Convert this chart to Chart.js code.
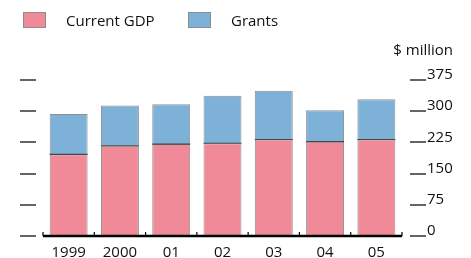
<!DOCTYPE html>
<html>
<head>
<meta charset="utf-8">
<script src="https://cdn.jsdelivr.net/npm/chart.js@4"></script>
<style>
  body { margin: 0; background: #fff; font-family: "Open Sans", sans-serif; }
  #wrap { position: relative; width: 471px; height: 258px; }
  canvas { position: absolute; left: 0; top: 0; }
  .key { position: absolute; top: 12px; width: 21px; height: 14px; border: 1px solid #8c8c8c; }
  .txt { position: absolute; font-size: 15px; line-height: 16px; color: #111; white-space: nowrap; }
</style>
</head>
<body>
<div id="wrap">
  <canvas id="chart" width="471" height="258"></canvas>
  <div class="key" style="left:23px;background:#f08a99"></div>
  <div class="txt" style="left:66px;top:12px">Current GDP</div>
  <div class="key" style="left:188px;background:#7db1d8"></div>
  <div class="txt" style="left:231px;top:12px">Grants</div>
  <div class="txt" style="right:18px;top:41px">$ million</div>
</div>
<script>
const years = ["1999", "2000", "01", "02", "03", "04", "05"];
const currentGdp = [196, 217, 221, 223, 232, 227, 232];
const grants = [97, 97, 96, 114, 117, 75, 97];
const yTicks = [0, 75, 150, 225, 300, 375];

const font = { family: "'Open Sans', sans-serif", size: 15 };

// tick dashes on both sides, dark line on top of GDP, heavy base line
const axisMarks = {
  id: "axisMarks",
  afterDatasetsDraw(chart) {
    const { ctx, chartArea: a, scales: { x, y } } = chart;
    ctx.save();

    ctx.strokeStyle = "#333";
    ctx.lineWidth = 1.5;
    yTicks.forEach((v) => {
      const py = Math.round(y.getPixelForValue(v));
      ctx.beginPath();
      ctx.moveTo(20, py); ctx.lineTo(36, py);
      ctx.moveTo(a.right + 8, py); ctx.lineTo(a.right + 24, py);
      ctx.stroke();
    });

    ctx.strokeStyle = "#444";
    ctx.lineWidth = 1.2;
    chart.getDatasetMeta(0).data.forEach((bar) => {
      const half = bar.width / 2;
      ctx.beginPath();
      ctx.moveTo(bar.x - half, bar.y); ctx.lineTo(bar.x + half, bar.y);
      ctx.stroke();
    });

    ctx.strokeStyle = "#000";
    ctx.lineWidth = 2.5;
    ctx.beginPath();
    ctx.moveTo(a.left, a.bottom); ctx.lineTo(a.right, a.bottom);
    ctx.stroke();

    ctx.lineWidth = 1.2;
    const step = x.getPixelForValue(1) - x.getPixelForValue(0);
    for (let i = 0; i <= years.length; i++) {
      const px = x.getPixelForValue(0) - step / 2 + i * step;
      ctx.beginPath();
      ctx.moveTo(px, a.bottom); ctx.lineTo(px, a.bottom - 4);
      ctx.stroke();
    }
    ctx.restore();
  },
};

new Chart(document.getElementById("chart"), {
  type: "bar",
  data: {
    labels: years,
    datasets: [
      {
        label: "Current GDP",
        data: currentGdp,
        backgroundColor: "#f08a99",
        borderColor: "#909090",
        borderWidth: 1,
        barPercentage: 0.74,
        categoryPercentage: 1,
      },
      {
        label: "Grants",
        data: grants,
        backgroundColor: "#7db1d8",
        borderColor: "#909090",
        borderWidth: 1,
        barPercentage: 0.74,
        categoryPercentage: 1,
      },
    ],
  },
  options: {
    responsive: false,
    animation: false,
    layout: { padding: { left: 43, right: 19, top: 80, bottom: 0 } },
    plugins: { legend: { display: false }, tooltip: { enabled: false } },
    scales: {
      x: {
        stacked: true,
        afterFit: (s) => { s.height = 22; s.paddingLeft = 0; s.paddingRight = 0; },
        grid: { display: false, drawTicks: false, tickLength: 0 },
        border: { display: false },
        ticks: { color: "#111", font, padding: 8, maxRotation: 0, autoSkip: false },
      },
      y: {
        stacked: true,
        position: "right",
        min: 0,
        max: 375,
        afterBuildTicks: (s) => { s.ticks = yTicks.map((v) => ({ value: v })); },
        afterFit: (s) => { s.width = 50; s.paddingTop = 0; s.paddingBottom = 0; },
        grid: { display: false, drawTicks: false, tickLength: 0 },
        border: { display: false },
        ticks: { color: "#111", font, padding: 25, labelOffset: -5 },
      },
    },
  },
  plugins: [axisMarks],
});
</script>
</body>
</html>
